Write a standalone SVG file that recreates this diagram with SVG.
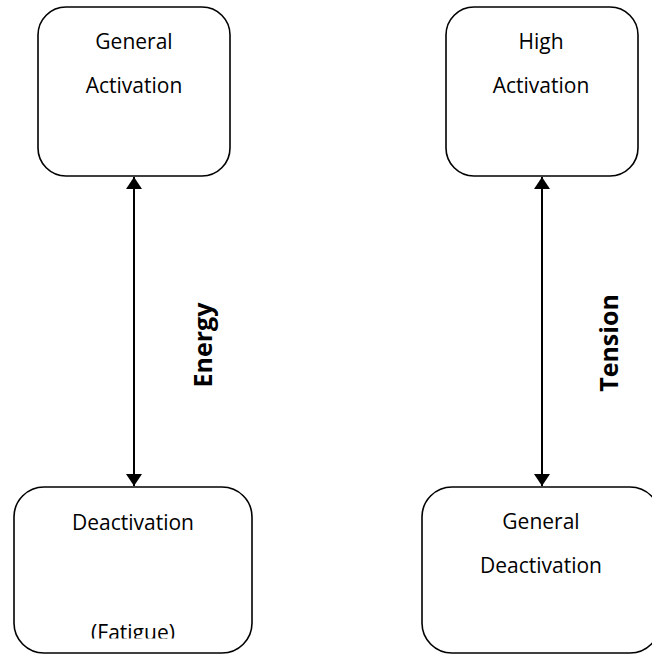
<svg xmlns="http://www.w3.org/2000/svg" width="652" height="655" viewBox="0 0 652 655">
  <style>
    .box { fill: #ffffff; stroke: #000000; stroke-width: 1.6; }
    .lbl { font-family: "Open Sans", "Liberation Sans", sans-serif; font-size: 21px; fill: #000000; text-anchor: middle; }
    .axis { font-family: "Open Sans", "Liberation Sans", sans-serif; font-size: 25px; font-weight: bold; fill: #000000; text-anchor: middle; }
    .conn { stroke: #000000; stroke-width: 2; fill: none; }
  </style>
  <defs>
    <marker id="head" viewBox="0 0 12 16" refX="12" refY="8" markerWidth="12" markerHeight="16" markerUnits="userSpaceOnUse" orient="auto-start-reverse">
      <path d="M0,0 L12,8 L0,16 Z" fill="#000000"/>
    </marker>
    <!-- the last line of the lower-left box is cut off at its text frame -->
    <clipPath id="fatigueClip">
      <rect x="0" y="600" width="300" height="38.5"/>
    </clipPath>
  </defs>
  <rect x="0" y="0" width="652" height="655" fill="#ffffff"/>

  <g id="general-activation">
    <rect class="box" x="38" y="7" width="192" height="169" rx="28" ry="28"/>
    <text class="lbl" x="134" y="49">General</text>
    <text class="lbl" x="134" y="93">Activation</text>
  </g>

  <g id="high-activation">
    <rect class="box" x="446" y="7" width="192" height="169" rx="28" ry="28"/>
    <text class="lbl" x="541" y="49">High</text>
    <text class="lbl" x="541" y="93">Activation</text>
  </g>

  <g id="deactivation">
    <rect class="box" x="14" y="487" width="238" height="166" rx="30" ry="30"/>
    <text class="lbl" x="133" y="530">Deactivation</text>
    <text class="lbl" x="133" y="640" clip-path="url(#fatigueClip)">(Fatigue)</text>
  </g>

  <g id="general-deactivation">
    <rect class="box" x="422" y="487" width="238" height="166" rx="30" ry="30"/>
    <text class="lbl" x="541" y="529">General</text>
    <text class="lbl" x="541" y="573">Deactivation</text>
  </g>

  <g id="connectors">
    <line class="conn" x1="134" y1="177" x2="134" y2="486" marker-start="url(#head)" marker-end="url(#head)"/>
    <line class="conn" x1="542" y1="177" x2="542" y2="486" marker-start="url(#head)" marker-end="url(#head)"/>
    <text class="axis" transform="translate(212,345) rotate(-90)">Energy</text>
    <text class="axis" transform="translate(618,343) rotate(-90)">Tension</text>
  </g>
</svg>
